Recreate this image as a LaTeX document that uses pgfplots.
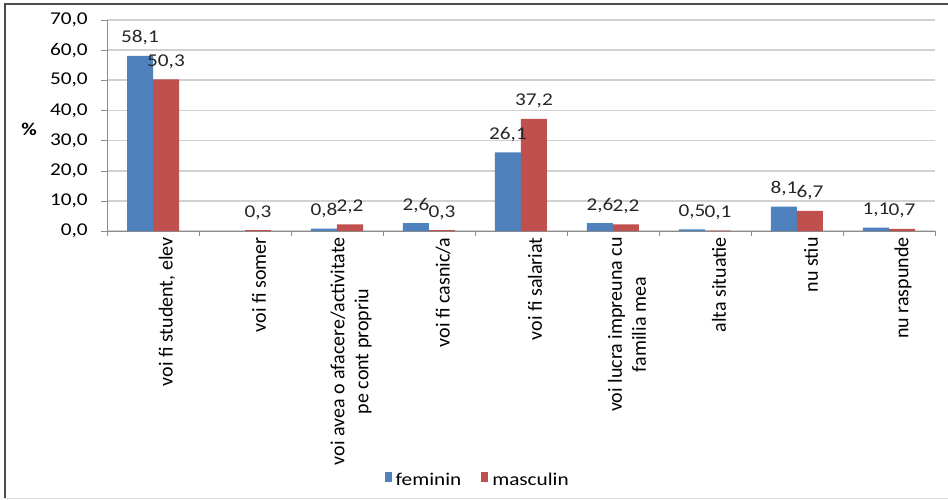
\documentclass[border=0pt]{standalone}
\usepackage{pgfplots}
\pgfplotsset{compat=1.18}
\usepackage{fontspec}
\setmainfont{Carlito}[FakeStretch=1.18]
\newfontfamily\rotfont{Carlito}
\definecolor{fem}{HTML}{4F81BD}
\definecolor{masc}{HTML}{C0504D}
\begin{document}
\begin{tikzpicture}[font=\fontsize{9}{10}\selectfont]
\useasboundingbox (0,0) rectangle (474pt,249.5pt);
% chart frame
\draw[line width=1pt, black!70] (2.5pt,0.5pt) -- (2.5pt,247.5pt) -- (474pt,247.5pt);
\draw[line width=0.6pt, black!12] (2.5pt,0.4pt) -- (474pt,0.4pt);
\begin{axis}[
  at={(53.5pt,134pt)}, anchor=south west,
  scale only axis, width=414pt, height=105.5pt,
  ybar=0pt, bar width=13pt,
  xmin=-0.5, xmax=8.5, ymin=0, ymax=70,
  ytick={0,10,...,70},
  xtick={0,...,8},
  xticklabels={{voi fi student{,} elev}, voi fi somer, {voi avea o afacere/activitate\\pe cont propriu}, voi fi casnic/a, voi fi salariat, {voi lucra impreuna cu\\familia mea}, alta situatie, nu stiu, nu raspunde},
  minor xtick={-0.5,0.5,...,8.5},
  axis x line*=bottom, axis y line*=left,
  axis line style={black!45, -},
  tick align=outside,
  major x tick style={draw=none},
  minor x tick style={black!45},
  major y tick style={black!45},
  major tick length=3pt, minor tick length=2.5pt,
  ymajorgrids, grid style={black!18, line width=0.8pt},
  /pgf/number format/.cd, fixed, fixed zerofill, precision=1, use comma, assume math mode=true,
  /pgfplots/.cd,
  yticklabel style={inner sep=0pt, xshift=-6.5pt},
  xticklabel style={font=\rotfont, rotate=90, anchor=east, align=center, inner sep=0pt, yshift=-7pt},
  ylabel={\textbf{\%}},
  ylabel style={rotate=-90, at={(axis description cs:-0.094,0.483)}, anchor=center},
  nodes near coords,
  every node near coord/.append style={anchor=base, inner sep=0pt, yshift=6.5pt, black!85},
  legend style={at={(0.449,-1.185)}, anchor=center, draw=none, legend columns=-1,
    /tikz/every even column/.append style={column sep=8pt}},
  legend image code/.code={\fill[#1] (0pt,-0.5pt) rectangle (3.5pt,4.5pt);},
]
\addplot[fill=fem, draw=none] coordinates {(0,58.1) (2,0.8) (3,2.6) (4,26.1) (5,2.6) (6,0.5) (7,8.1) (8,1.1)};
\addplot[fill=masc, draw=none] coordinates {(0,50.3) (1,0.3) (2,2.2) (3,0.3) (4,37.2) (5,2.2) (6,0.1) (7,6.7) (8,0.7)};
\legend{feminin, masculin}
\end{axis}
\end{tikzpicture}
\end{document}
